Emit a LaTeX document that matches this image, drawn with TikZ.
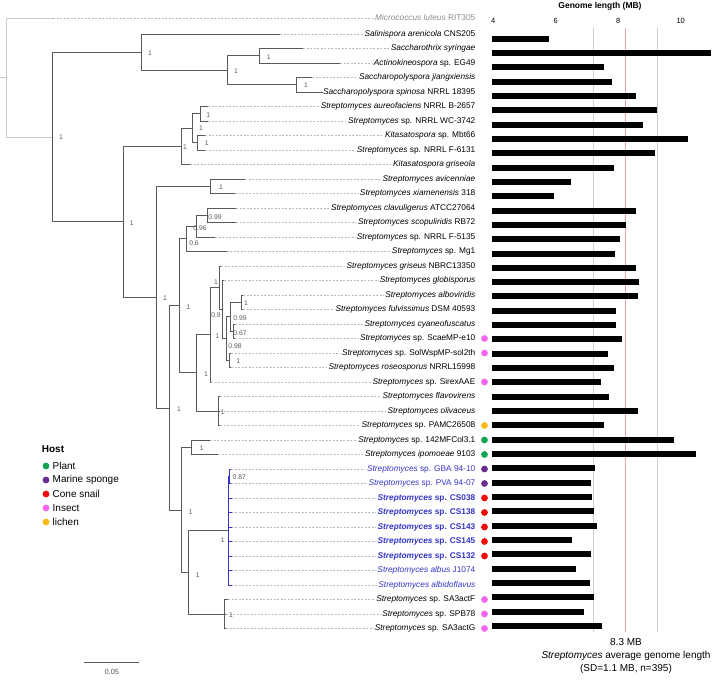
\documentclass[tikz,border=0pt]{standalone}
\usepackage{fontspec}
\setmainfont{Liberation Sans}
\usetikzlibrary{calc, positioning}
\definecolor{branch}{HTML}{5A5A5A}
\definecolor{outbr}{HTML}{C8C8C8}
\definecolor{outtxt}{HTML}{8C8C8C}
\definecolor{dashgray}{HTML}{BBBBBB}
\definecolor{cblue}{HTML}{3434C8}
\definecolor{gridgray}{HTML}{D0D0D0}
\definecolor{meanred}{HTML}{E8A8A8}
\definecolor{plant}{HTML}{12A454}
\definecolor{sponge}{HTML}{6B2C91}
\definecolor{snail}{HTML}{F00A0A}
\definecolor{insect}{HTML}{F266F0}
\definecolor{lichen}{HTML}{FAB918}

\begin{document}
\begin{tikzpicture}[x=1pt, y=-1pt,
    br/.style={draw=branch, line width=0.9pt},
    brout/.style={draw=outbr, line width=0.9pt},
    brblue/.style={draw=cblue, line width=0.9pt},
    dashln/.style={draw=dashgray, line width=0.6pt, dash pattern=on 2pt off 1.5pt},
    leaf/.style={anchor=east, inner sep=1.5pt, text height=5.8pt, text depth=1.7pt,
                 font=\fontsize{8.3}{9}\selectfont},
    sup/.style={inner sep=0pt, text=branch, font=\fontsize{6.8}{7}\selectfont},
    tick/.style={inner sep=0pt, font=\fontsize{7.5}{8}\selectfont},
    bar/.style={fill=black},
    sdline/.style={draw=gridgray, line width=0.8pt},
    meanline/.style={draw=meanred, line width=0.8pt},
    lgd/.style={anchor=west, inner sep=0pt, font=\fontsize{10}{12}\selectfont}]
  \useasboundingbox (0,0) rectangle (715,680);

  % genome length panel: grid lines first
  \draw[sdline]   (593.3,28) -- (593.3,632);
  \draw[meanline] (625,28)   -- (625,632);
  \draw[sdline]   (657.3,28) -- (657.3,632);
  \node[inner sep=0pt, font=\fontsize{8.5}{9}\selectfont\bfseries] (gl) at (600,6.5) {Genome length (MB)};
  \foreach \v/\xx in {4/493.3, 6/555.7, 8/618.3, 10/680.7}
    \node[tick] (k\v) at (\xx,20.5) {\v};

  % leaves
  \foreach \i/\tx/\txt in {
    1/53/{\color{outtxt}\textit{Micrococcus luteus} RIT305},
    2/280/{\textit{Salinispora arenicola} CNS205},
    3/303/{\textit{Saccharothrix syringae}},
    4/340/{\textit{Actinokineospora} sp. EG49},
    5/312/{\textit{Saccharopolyspora jiangxiensis}},
    6/323/{\textit{Saccharopolyspora spinosa} NRRL 18395},
    7/208/{\textit{Streptomyces aureofaciens} NRRL B-2657},
    8/208/{\textit{Streptomyces} sp. NRRL WC-3742},
    9/205/{\textit{Kitasatospora} sp. Mbt66},
    10/205/{\textit{Streptomyces} sp. NRRL F-6131},
    11/190/{\textit{Kitasatospora griseola}},
    12/245/{\textit{Streptomyces avicenniae}},
    13/235/{\textit{Streptomyces xiamenensis} 318},
    14/236/{\textit{Streptomyces clavuligerus} ATCC27064},
    15/236/{\textit{Streptomyces scopuliridis} RB72},
    16/215/{\textit{Streptomyces} sp. NRRL F-5135},
    17/226.7/{\textit{Streptomyces} sp. Mg1},
    18/221/{\textit{Streptomyces griseus} NBRC13350},
    19/224/{\textit{Streptomyces globisporus}},
    20/243/{\textit{Streptomyces alboviridis}},
    21/243/{\textit{Streptomyces fulvissimus} DSM 40593},
    22/235/{\textit{Streptomyces cyaneofuscatus}},
    23/235/{\textit{Streptomyces} sp. ScaeMP-e10},
    24/231/{\textit{Streptomyces} sp. SolWspMP-sol2th},
    25/231/{\textit{Streptomyces roseosporus} NRRL15998},
    26/211/{\textit{Streptomyces} sp. SirexAAE},
    27/220/{\textit{Streptomyces flavovirens}},
    28/220/{\textit{Streptomyces olivaceus}},
    29/220/{\textit{Streptomyces} sp. PAMC26508},
    30/210/{\textit{Streptomyces} sp. 142MFCol3.1},
    31/218.3/{\textit{Streptomyces ipomoeae} 9103},
    32/231/{\color{cblue}\textit{Streptomyces} sp. GBA 94-10},
    33/231/{\color{cblue}\textit{Streptomyces} sp. PVA 94-07},
    34/231.7/{\color{cblue}\bfseries\textit{Streptomyces} sp. CS038},
    35/231.7/{\color{cblue}\bfseries\textit{Streptomyces} sp. CS138},
    36/231.7/{\color{cblue}\bfseries\textit{Streptomyces} sp. CS143},
    37/231.7/{\color{cblue}\bfseries\textit{Streptomyces} sp. CS145},
    38/231.7/{\color{cblue}\bfseries\textit{Streptomyces} sp. CS132},
    39/231.7/{\color{cblue}\textit{Streptomyces albus} J1074},
    40/231.7/{\color{cblue}\textit{Streptomyces albidoflavus}},
    41/228.3/{\textit{Streptomyces} sp. SA3actF},
    42/226/{\textit{Streptomyces} sp. SPB78},
    43/226/{\textit{Streptomyces} sp. SA3actG}}{
    \pgfmathsetmacro{\ry}{ifthenelse(\i==1,18,34+(\i-2)*14.5)}
    \coordinate (t\i) at (\tx,\ry);
    \node[leaf] (l\i) at (477,\ry) {\txt};
    \draw[dashln] (t\i) -- (l\i.west);
  }

  % bars
  \foreach \i/\len in {2/549, 3/710.7, 4/604.3, 5/612.3, 6/636, 7/656.7, 8/643,
      9/688, 10/655, 11/614, 12/571, 13/554, 14/636, 15/626, 16/620, 17/615,
      18/636, 19/639, 20/638, 21/616, 22/616, 23/621.7, 24/608.3, 25/614.3,
      26/600.7, 27/609, 28/637.7, 29/604, 30/674, 31/695.7, 32/594.7, 33/590.7,
      34/592, 35/594.3, 36/597, 37/572.3, 38/591.3, 39/575.7, 40/590, 41/594.3,
      42/584.3, 43/601.7}{
    \pgfmathsetmacro{\by}{38.7+(\i-2)*14.32}
    \fill[bar] (492,\by-3) rectangle (\len,\by+3);
  }

  % hosts
  \foreach \i/\c in {23/insect, 24/insect, 26/insect, 29/lichen, 30/plant, 31/plant,
      32/sponge, 33/sponge, 34/snail, 35/snail, 36/snail, 37/snail, 38/snail,
      41/insect, 42/insect, 43/insect}
    \fill[\c] (484.5,0 |- t\i) circle (3.4);

  % internal nodes
  \coordinate (root)   at (6.7,77.5);
  \coordinate (rstub)  at (0,77.5);
  \coordinate (ingrp)  at (52.7,137);
  \coordinate (salin)  at (141.7,52.2);
  \coordinate (pseudo) at (227.3,70.5);
  \coordinate (sacx)   at (259.7,55.75);
  \coordinate (sacp)   at (296.3,84.75);
  \coordinate (strep0) at (123,221.75);
  \coordinate (kita)   at (181,146.4);
  \coordinate (kitb)   at (192.7,128.25);
  \coordinate (aureo)  at (200,113.75);
  \coordinate (mbt)    at (197.3,142.75);
  \coordinate (strep1) at (156,297.1);
  \coordinate (avic)   at (210.7,186.25);
  \coordinate (strep2) at (169,408);
  \coordinate (gris0)  at (179.3,305.9);
  \coordinate (clav0)  at (186.7,238.8);
  \coordinate (clav1)  at (196,226.1);
  \coordinate (clav2)  at (207.7,215.25);
  \coordinate (gris1)  at (196.7,372.9);
  \coordinate (gris2)  at (210,334.9);
  \coordinate (gris3)  at (219.3,287.75);
  \coordinate (gris4)  at (222.7,309.5);
  \coordinate (gris5)  at (226,338.5);
  \coordinate (gris6)  at (230,316.75);
  \coordinate (albov)  at (241.7,302.25);
  \coordinate (cyan)   at (233.3,331.25);
  \coordinate (roseo)  at (229.3,360.25);
  \coordinate (oliv)   at (218.3,411);
  \coordinate (albus0) at (181.7,510);
  \coordinate (ipom)   at (191.7,447.25);
  \coordinate (albus1) at (188.3,572.3);
  \coordinate (albus)  at (228.3,530.6);
  \coordinate (sponge) at (229.5,476.25);
  \coordinate (sa3)    at (224.3,614);

  % branches
  \draw[brout] (rstub) -- (root) (root) |- (t1) (root) |- (ingrp);
  \draw[br] (ingrp) |- (salin) (ingrp) |- (strep0);
  \draw[br] (salin) |- (t2) (salin) |- (pseudo);
  \draw[br] (pseudo) |- (sacx) (pseudo) |- (sacp);
  \draw[br] (sacx) |- (t3) (sacx) |- (t4);
  \draw[br] (sacp) |- (t5) (sacp) |- (t6);
  \draw[br] (strep0) |- (kita) (strep0) |- (strep1);
  \draw[br] (kita) |- (kitb) (kita) |- (t11);
  \draw[br] (kitb) |- (aureo) (kitb) |- (mbt);
  \draw[br] (aureo) |- (t7) (aureo) |- (t8);
  \draw[br] (mbt) |- (t9) (mbt) |- (t10);
  \draw[br] (strep1) |- (avic) (strep1) |- (strep2);
  \draw[br] (avic) |- (t12) (avic) |- (t13);
  \draw[br] (strep2) |- (gris0) (strep2) |- (albus0);
  \draw[br] (gris0) |- (clav0) (gris0) |- (gris1);
  \draw[br] (clav0) |- (clav1) (clav0) |- (t17);
  \draw[br] (clav1) |- (clav2) (clav1) |- (t16);
  \draw[br] (clav2) |- (t14) (clav2) |- (t15);
  \draw[br] (gris1) |- (gris2) (gris1) |- (oliv);
  \draw[br] (gris2) |- (gris3) (gris2) |- (t26);
  \draw[br] (gris3) |- (t18) (gris3) |- (gris4);
  \draw[br] (gris4) |- (t19) (gris4) |- (gris5);
  \draw[br] (gris5) |- (gris6) (gris5) |- (roseo);
  \draw[br] (gris6) |- (albov) (gris6) |- (cyan);
  \draw[br] (albov) |- (t20) (albov) |- (t21);
  \draw[br] (cyan) |- (t22) (cyan) |- (t23);
  \draw[br] (roseo) |- (t24) (roseo) |- (t25);
  \draw[br] (oliv) |- (t27) (oliv) |- (t28) (oliv) |- (t29);
  \draw[br] (albus0) |- (ipom) (albus0) |- (albus1);
  \draw[br] (ipom) |- (t30) (ipom) |- (t31);
  \draw[br] (albus1) |- (albus) (albus1) |- (sa3);
  \draw[brblue] (albus) |- (sponge) \foreach \k in {34,...,40} {(albus) |- (t\k)};
  \draw[brblue] (sponge) |- (t32) (sponge) |- (t33);
  \draw[br] (sa3) |- (t41) (sa3) |- (t42) (sa3) |- (t43);

  % support values
  \node[sup] (s-ingrp)  at (61,137.3)    {1};
  \node[sup] (s-salin)  at (150,52.7)    {1};
  \node[sup] (s-pseudo) at (236,71)      {1};
  \node[sup] (s-sacx)   at (268.7,56.7)  {1};
  \node[sup] (s-sacp)   at (306,85)      {1};
  \node[sup] (s-strep0) at (131.7,222.7) {1};
  \node[sup] (s-kita)   at (185,146.7)   {1};
  \node[sup] (s-kitb)   at (201,128.3)   {1};
  \node[sup] (s-aureo)  at (208.3,115)   {1};
  \node[sup] (s-mbt)    at (206.7,143.3) {1};
  \node[sup] (s-strep1) at (165,297.7)   {1};
  \node[sup] (s-avic)   at (221,187.3)   {1};
  \node[sup] (s-clav2)  at (215,216.7)   {0.99};
  \node[sup] (s-clav1)  at (200,228.3)   {0.96};
  \node[sup] (s-clav0)  at (194,243.3)   {0.6};
  \node[sup] (s-gris0)  at (188.3,306.7) {1};
  \node[sup] (s-gris3)  at (216,281.7)   {1};
  \node[sup] (s-gris4)  at (216,315)     {0.9};
  \node[sup] (s-albov)  at (246,302.7)   {1};
  \node[sup] (s-gris6)  at (240,318.3)   {0.99};
  \node[sup] (s-cyan)   at (240,333.3)   {0.67};
  \node[sup] (s-gris2)  at (217.3,336)   {1};
  \node[sup] (s-gris5)  at (235,346)     {0.98};
  \node[sup] (s-roseo)  at (238.3,360.7) {1};
  \node[sup] (s-gris1)  at (206,374)     {1};
  \node[sup] (s-oliv)   at (222.7,411.7) {1};
  \node[sup] (s-strep2) at (179,409.3)   {1};
  \node[sup] (s-ipom)   at (201.7,448.3) {1};
  \node[sup] (s-albus0) at (190.7,511.7) {1};
  \node[sup] (s-sponge) at (239.3,476.7) {0.87};
  \node[sup] (s-albus)  at (222.7,540)   {1};
  \node[sup] (s-albus1) at (197.7,575)   {1};
  \node[sup] (s-sa3)    at (231,615)     {1};

  % host legend
  \node[lgd, font=\fontsize{10}{12}\selectfont\bfseries] (host) at (41.7,449.5) {Host};
  \foreach \c/\t [count=\k] in {plant/Plant, sponge/Marine sponge, snail/Cone snail,
      insect/Insect, lichen/lichen}{
    \fill[\c] (46,{466+(\k-1)*14}) circle (3.4);
    \node[lgd] (h\k) at (52.5,{466+(\k-1)*14}) {\t};
  }

  % scale bar
  \coordinate (sb1) at (84.3,662);
  \coordinate (sb2) at (139.3,662);
  \draw[br, line width=0.7pt] (sb1) -- (sb2);
  \node[tick, text=branch, below=7pt of $(sb1)!0.5!(sb2)$] (sbl) {0.05};

  % average genome length note
  \node[align=center, inner sep=0pt, font=\fontsize{10}{13}\selectfont] (avg) at (626,656.5)
    {8.3 MB\\\textit{Streptomyces} average genome length\\(SD=1.1 MB, n=395)};
\end{tikzpicture}
\end{document}
